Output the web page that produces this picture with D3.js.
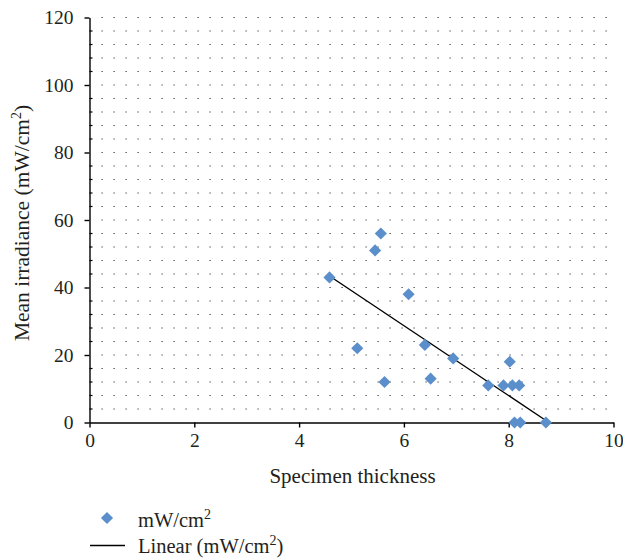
<!DOCTYPE html>
<html>
<head>
<meta charset="utf-8">
<script src="https://cdn.jsdelivr.net/npm/d3@7"></script>
<style>
  body { margin: 0; background: #fff; }
  text { font-family: "Liberation Serif", "Times New Roman", serif; fill: #231f20; }
</style>
</head>
<body>
<svg id="chart"></svg>
<script>
// specimen thickness vs mean irradiance (mW/cm2)
const thickness = [4.58, 5.56, 5.45, 6.09, 5.11, 5.63, 6.40, 6.51, 6.94, 7.61, 7.90, 8.07, 8.20, 8.02, 8.11, 8.22, 8.71];
const irradiance = [43, 56, 51, 38, 22, 12, 23, 13, 19, 11, 11, 11, 11, 18, 0, 0, 0];

// linear trend line ends
const trendX = [4.58, 8.71];
const trendY = [43.4, 0.6];

const xTicks = [0, 2, 4, 6, 8, 10];
const yTicks = [0, 20, 40, 60, 80, 100, 120];

const width = 623, height = 558;
const margin = { top: 17.5, right: 9.5, bottom: 135.5, left: 89.5 };

const svg = d3.select("#chart")
    .attr("width", width)
    .attr("height", height);

const x = d3.scaleLinear().domain([0, 10]).range([margin.left, width - margin.right]);
const y = d3.scaleLinear().domain([0, 120]).range([height - margin.bottom, margin.top]);

// dotted gridlines every 4 units
const gridVals = d3.range(4, 121, 4);
svg.append("g")
    .selectAll("line")
    .data(gridVals)
    .enter()
    .append("line")
    .attr("x1", x(0) + 12)
    .attr("x2", x(10))
    .attr("y1", (d) => y(d))
    .attr("y2", (d) => y(d))
    .attr("stroke", "#333")
    .attr("stroke-width", 1.2)
    .attr("stroke-dasharray", "1.2,10.8");

// x axis
const xAxis = svg.append("g")
    .attr("transform", "translate(0," + y(0) + ")")
    .call(d3.axisBottom(x).tickValues(xTicks).tickSize(5).tickSizeOuter(0).tickPadding(6));
xAxis.select(".domain").attr("stroke", "#000").attr("stroke-width", 1.4);
xAxis.selectAll(".tick line").attr("stroke", "#000").attr("stroke-width", 1.4);
xAxis.selectAll(".tick text")
    .attr("font-family", "Liberation Serif")
    .attr("font-size", 19.5)
    .attr("fill", "#231f20");

// y axis, minor ticks inside
svg.append("g")
    .selectAll("line")
    .data(gridVals.filter((d) => d % 20 !== 0))
    .enter()
    .append("line")
    .attr("x1", x(0))
    .attr("x2", x(0) + 3)
    .attr("y1", (d) => y(d))
    .attr("y2", (d) => y(d))
    .attr("stroke", "#000")
    .attr("stroke-width", 1.2);

const yAxis = svg.append("g")
    .attr("transform", "translate(" + x(0) + ",0)")
    .call(d3.axisLeft(y).tickValues(yTicks).tickSize(5).tickSizeOuter(0).tickPadding(11));
yAxis.select(".domain").attr("stroke", "#000").attr("stroke-width", 1.4);
yAxis.selectAll(".tick line").attr("stroke", "#000").attr("stroke-width", 1.4);
yAxis.selectAll(".tick text")
    .attr("font-family", "Liberation Serif")
    .attr("font-size", 19.5)
    .attr("fill", "#231f20");

// trend line
const trend = trendX.map((d, i) => [d, trendY[i]]);
svg.append("path")
    .datum(trend)
    .attr("fill", "none")
    .attr("stroke", "#000")
    .attr("stroke-width", 1.4)
    .attr("d", d3.line().x((d) => x(d[0])).y((d) => y(d[1])));

// diamonds
const diamond = d3.symbol().type(d3.symbolSquare).size(74);
svg.append("g")
    .selectAll("path")
    .data(thickness)
    .enter()
    .append("path")
    .attr("d", diamond)
    .attr("fill", "#5b8fcb")
    .attr("transform", (d, i) => "translate(" + x(d) + "," + y(irradiance[i]) + ") rotate(45)");

// axis titles
svg.append("text")
    .attr("x", (x(0) + x(10)) / 2 + 1)
    .attr("y", 483)
    .attr("text-anchor", "middle")
    .attr("font-size", 21)
    .text("Specimen thickness");

const yTitle = svg.append("text")
    .attr("transform", "translate(28.5," + 223 + ") rotate(-90)")
    .attr("text-anchor", "middle")
    .attr("font-size", 21.5);
yTitle.append("tspan").text("Mean irradiance (mW/cm");
yTitle.append("tspan").attr("dy", -8).attr("font-size", 14).text("2");
yTitle.append("tspan").attr("dy", 8).text(")");

// legend
svg.append("path")
    .attr("d", diamond)
    .attr("fill", "#5b8fcb")
    .attr("transform", "translate(107,518) rotate(45)");
const leg1 = svg.append("text").attr("x", 138).attr("y", 526.5).attr("font-size", 20.5);
leg1.append("tspan").text("mW/cm");
leg1.append("tspan").attr("dy", -8).attr("font-size", 14).text("2");

svg.append("line")
    .attr("x1", 90).attr("x2", 125)
    .attr("y1", 545.5).attr("y2", 545.5)
    .attr("stroke", "#000").attr("stroke-width", 1.3);
const leg2 = svg.append("text").attr("x", 138).attr("y", 553).attr("font-size", 20.5);
leg2.append("tspan").text("Linear (mW/cm");
leg2.append("tspan").attr("dy", -8).attr("font-size", 14).text("2");
leg2.append("tspan").attr("dy", 8).text(")");
</script>
</body>
</html>
